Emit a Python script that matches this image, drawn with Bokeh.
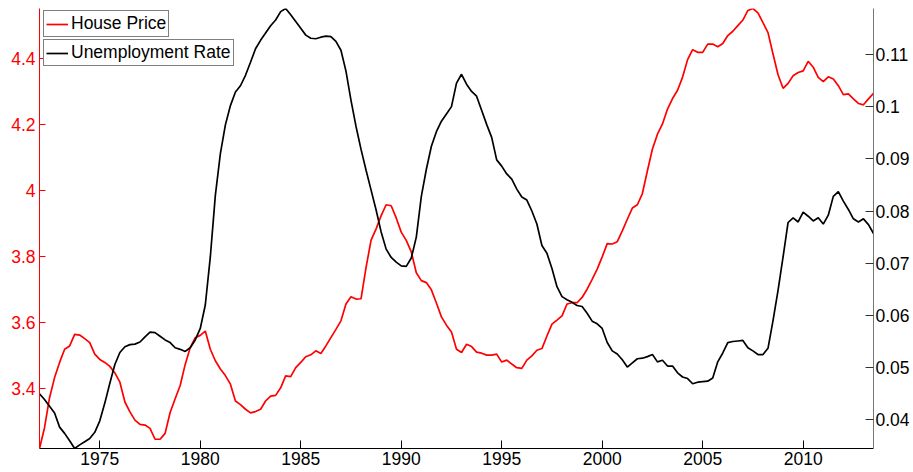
import numpy as np
from bokeh.plotting import figure
from bokeh.models import (Range1d, LinearAxis, FixedTicker, Legend, LegendItem,
                          ColumnDataSource)
from bokeh.embed import file_html
from bokeh.resources import INLINE

# ---------------- data (quarterly, 1972Q1 .. 2013Q3) ----------------
start_year = 1972.0
house_price = [
    3.219, 3.282, 3.373, 3.434,
    3.480, 3.520, 3.530, 3.565,
    3.563, 3.552, 3.540, 3.505,
    3.489, 3.480, 3.468, 3.448,
    3.420, 3.360, 3.330, 3.305,
    3.292, 3.290, 3.280, 3.247,
    3.247, 3.265, 3.328, 3.370,
    3.410, 3.474, 3.525, 3.555,
    3.562, 3.575, 3.520, 3.485,
    3.460, 3.440, 3.414, 3.363,
    3.352, 3.338, 3.327, 3.331,
    3.338, 3.363, 3.378, 3.380,
    3.403, 3.439, 3.437, 3.464,
    3.480, 3.497, 3.503, 3.515,
    3.507, 3.530, 3.555, 3.580,
    3.606, 3.657, 3.679, 3.672,
    3.673, 3.768, 3.851, 3.885,
    3.925, 3.958, 3.955, 3.918,
    3.875, 3.850, 3.815, 3.752,
    3.728, 3.722, 3.700, 3.660,
    3.618, 3.593, 3.572, 3.520,
    3.510, 3.535, 3.528, 3.511,
    3.508, 3.502, 3.502, 3.505,
    3.481, 3.487, 3.475, 3.464,
    3.462, 3.487, 3.500, 3.517,
    3.522, 3.560, 3.596, 3.608,
    3.621, 3.657, 3.661, 3.661,
    3.677, 3.702, 3.732, 3.763,
    3.800, 3.840, 3.839, 3.846,
    3.879, 3.914, 3.948, 3.958,
    3.992, 4.061, 4.127, 4.172,
    4.203, 4.248, 4.280, 4.305,
    4.345, 4.398, 4.428, 4.420,
    4.420, 4.445, 4.445, 4.437,
    4.447, 4.471, 4.484, 4.501,
    4.518, 4.547, 4.553, 4.540,
    4.510, 4.480, 4.415, 4.352,
    4.311, 4.326, 4.349, 4.359,
    4.364, 4.393, 4.375, 4.344,
    4.331, 4.346, 4.339, 4.319,
    4.292, 4.294, 4.279, 4.265,
    4.261, 4.279, 4.296,
]
unemployment = [
    0.0450, 0.0439, 0.0426, 0.0413,
    0.0386, 0.0374, 0.0360, 0.0345,
    0.0352, 0.0358, 0.0364, 0.0376,
    0.0398, 0.0432, 0.0470, 0.0506,
    0.0529, 0.0540, 0.0544, 0.0545,
    0.0549, 0.0559, 0.0568, 0.0567,
    0.0560, 0.0553, 0.0548, 0.0538,
    0.0535, 0.0531, 0.0538, 0.0553,
    0.0575, 0.0620, 0.0712, 0.0830,
    0.0910, 0.0965, 0.1002, 0.1028,
    0.1040, 0.1060, 0.1085, 0.1111,
    0.1127, 0.1141, 0.1155, 0.1166,
    0.1182, 0.1188, 0.1176, 0.1163,
    0.1150, 0.1137, 0.1131, 0.1130,
    0.1133, 0.1135, 0.1134, 0.1125,
    0.1108, 0.1068, 0.1012, 0.0962,
    0.0918, 0.0878, 0.0840, 0.0802,
    0.0760, 0.0727, 0.0711, 0.0702,
    0.0695, 0.0694, 0.0710, 0.0750,
    0.0828, 0.0880, 0.0924, 0.0952,
    0.0972, 0.0986, 0.1000, 0.1045,
    0.1062, 0.1043, 0.1029, 0.1020,
    0.0993, 0.0966, 0.0941, 0.0898,
    0.0886, 0.0871, 0.0861, 0.0842,
    0.0827, 0.0821, 0.0800, 0.0775,
    0.0734, 0.0719, 0.0690, 0.0655,
    0.0636, 0.0630, 0.0625, 0.0619,
    0.0617, 0.0604, 0.0589, 0.0584,
    0.0575, 0.0548, 0.0532, 0.0526,
    0.0515, 0.0501, 0.0509, 0.0517,
    0.0518, 0.0521, 0.0525, 0.0511,
    0.0514, 0.0503, 0.0503, 0.0490,
    0.0482, 0.0479, 0.0469, 0.0472,
    0.0473, 0.0474, 0.0480, 0.0511,
    0.0528, 0.0548, 0.0550, 0.0551,
    0.0552, 0.0538, 0.0532, 0.0525,
    0.0525, 0.0537, 0.0590, 0.0648,
    0.0712, 0.0778, 0.0787, 0.0779,
    0.0798, 0.0790, 0.0781, 0.0787,
    0.0775, 0.0792, 0.0828, 0.0837,
    0.0819, 0.0803, 0.0785, 0.0779,
    0.0785, 0.0774, 0.0757,
]
years = start_year + 0.25 * np.arange(len(house_price))

x_ticks = [1975, 1980, 1985, 1990, 1995, 2000, 2005, 2010]
left_ticks = [3.4, 3.6, 3.8, 4.0, 4.2, 4.4]
left_labels = ["3.4", "3.6", "3.8", "4", "4.2", "4.4"]
right_ticks = [0.04, 0.05, 0.06, 0.07, 0.08, 0.09, 0.10, 0.11]
right_labels = ["0.04", "0.05", "0.06", "0.07", "0.08", "0.09", "0.1", "0.11"]
series_names = ["House Price", "Unemployment Rate"]

FONT = "Liberation Sans"
FS = "17.5px"
RED = "#ff0000"

src = ColumnDataSource(dict(year=years, price=house_price, unemp=unemployment))

FRAME_H = 440
p = figure(frame_width=834, frame_height=FRAME_H,
           min_border_left=39, min_border_right=40,
           min_border_top=8, min_border_bottom=24,
           x_range=Range1d(years[0], years[-1]),
           y_range=Range1d(min(house_price), max(house_price)),
           output_backend="svg", toolbar_location=None)
p.extra_y_ranges = {"unemp": Range1d(min(unemployment), max(unemployment))}

p.grid.visible = False
p.outline_line_color = None
p.background_fill_color = "white"
p.border_fill_color = "white"

r_price = p.line("year", "price", source=src, line_color=RED, line_width=1.7)
r_unemp = p.line("year", "unemp", source=src, line_color="black", line_width=1.7,
                 y_range_name="unemp")

# x axis
xa = p.xaxis[0]
xa.ticker = FixedTicker(ticks=x_ticks)
xa.minor_tick_line_color = None
xa.major_tick_in = 8
xa.major_tick_out = 0
xa.axis_line_color = "black"
xa.major_tick_line_color = "black"
xa.major_label_text_font = FONT
xa.major_label_text_font_size = FS
xa.major_label_text_color = "black"
xa.major_label_standoff = 3

# left axis (house price)
ya = p.yaxis[0]
ya.ticker = FixedTicker(ticks=left_ticks)
ya.major_label_overrides = {t: l for t, l in zip(left_ticks, left_labels)}
ya.minor_tick_line_color = None
ya.major_tick_in = 6
ya.major_tick_out = 0
ya.axis_line_color = RED
ya.major_tick_line_color = RED
ya.major_label_text_color = RED
ya.major_label_text_font = FONT
ya.major_label_text_font_size = FS
ya.major_label_standoff = 4

# right axis (unemployment)
ra = LinearAxis(y_range_name="unemp",
                ticker=FixedTicker(ticks=right_ticks))
ra.major_label_overrides = {t: l for t, l in zip(right_ticks, right_labels)}
ra.minor_tick_line_color = None
ra.major_tick_in = 8
ra.major_tick_out = 0
ra.axis_line_color = "#777777"
ra.major_tick_line_color = "#333333"
ra.major_label_text_color = "black"
ra.major_label_text_font = FONT
ra.major_label_text_font_size = FS
ra.major_label_standoff = 2
p.add_layout(ra, "right")

# two separate legend boxes
LEG_H = 25
def make_legend(name, rend, loc):
    lg = Legend(items=[LegendItem(label=name, renderers=[rend])], location=loc)
    lg.label_text_font = FONT
    lg.label_text_font_size = "17.5px"
    lg.label_text_color = "black"
    lg.border_line_color = "black"
    lg.border_line_width = 1.3
    lg.background_fill_color = "white"
    lg.background_fill_alpha = 1.0
    lg.glyph_width = 22
    lg.glyph_height = 16
    lg.label_height = 16
    lg.label_standoff = 3
    lg.padding = 2
    lg.spacing = 0
    lg.margin = 0
    return lg

p.add_layout(make_legend(series_names[0], r_price, (4, FRAME_H - 4 - LEG_H)), "center")
p.add_layout(make_legend(series_names[1], r_unemp, (4, FRAME_H - 33 - LEG_H)), "center")

open("out.html", "w").write(file_html(p, INLINE))
